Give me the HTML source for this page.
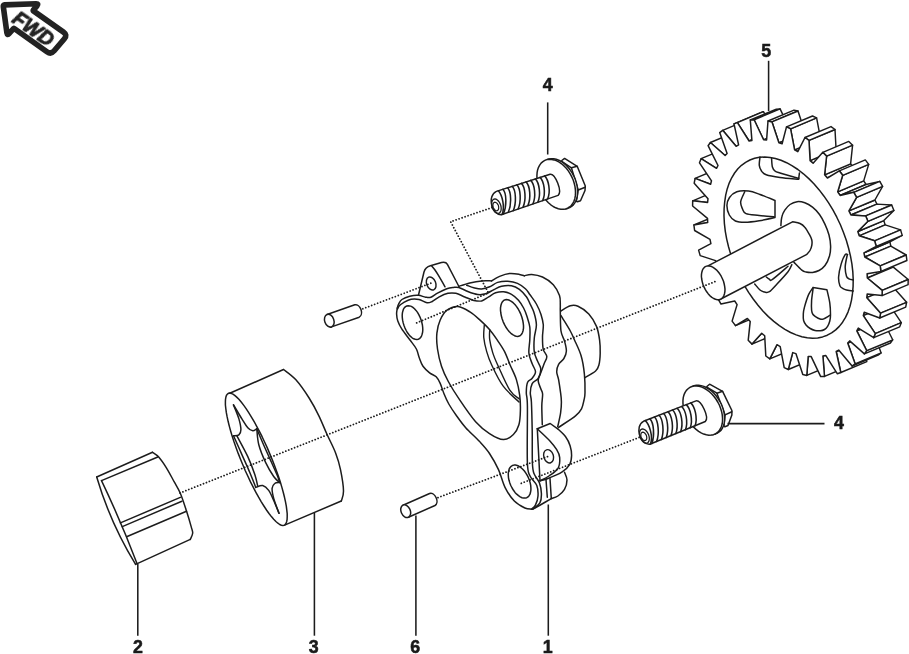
<!DOCTYPE html>
<html><head><meta charset="utf-8"><title>Oil pump assembly</title>
<style>
html,body{margin:0;padding:0;background:#fff;}
svg{display:block;}
text{font-family:"Liberation Sans",Arial,Helvetica,sans-serif;font-weight:bold;fill:#1a1a1a;}
</style></head><body>
<svg width="909" height="654" viewBox="0 0 909 654">
<defs><filter id="gs" x="-20%" y="-20%" width="140%" height="140%" color-interpolation-filters="sRGB"><feColorMatrix type="saturate" values="0"/></filter></defs>
<rect width="909" height="654" fill="#fff"/>
<g>
<path d="M3.3 6.5Q3.1 5 4.6 4.9L36 3.7Q39 3.6 37 5.9L33.3 10.2Q33 10.6 33.4 10.9L63.5 32.1Q67.6 35 64.4 38.8L54.2 50.8Q51 54.6 46.9 51.7L14.2 28.5Q13.8 28.2 13.5 28.6L9.2 33.5Q7.3 35.8 6.9 32.8Z" fill="#fff" stroke="#222" stroke-width="5.6" stroke-linejoin="round"/>
<text x="0" y="0" filter="url(#gs)" font-size="20" font-style="italic" transform="translate(10.9 21.4) rotate(35)" style="fill:#222;stroke:#222;stroke-width:0.9px;stroke-linejoin:round">FWD</text>
</g>
<g><path d="M96.7 477L152.5 452.3" fill="none" stroke="#1c1c1c" stroke-width="1.5" stroke-linejoin="round" stroke-linecap="round" /><path d="M152.5 452.3C153.5 453.1 156.4 454.4 158.7 457C161 459.6 163.8 463.7 166.4 467.8C169 471.9 171.8 477.5 174.1 481.7C176.4 485.9 178.2 488.3 180.3 493.2C182.4 498.1 184.7 505.5 186.5 511C188.3 516.5 190.1 522.7 191.1 526.4C192.1 530.1 192.8 530.8 192.7 533C192.6 535.2 190.7 538.3 190.3 539.4" fill="none" stroke="#1c1c1c" stroke-width="1.5" stroke-linejoin="round" stroke-linecap="round" /><path d="M190.3 539.4L135.6 564.4" fill="none" stroke="#1c1c1c" stroke-width="1.5" stroke-linejoin="round" stroke-linecap="round" /><path d="M96.7 477Q110.4 523.3 135.6 564.4" fill="none" stroke="#1c1c1c" stroke-width="1.5" stroke-linejoin="round" stroke-linecap="round" /><path d="M101.5 480.6Q120.9 521.2 136.9 563.2" fill="none" stroke="#1c1c1c" stroke-width="1.5" stroke-linejoin="round" stroke-linecap="round" /><path d="M101.5 480.6L157.8 457" fill="none" stroke="#1c1c1c" stroke-width="1.5" stroke-linejoin="round" stroke-linecap="round" /><path d="M120.4 522.9L180.3 497.4" fill="none" stroke="#1c1c1c" stroke-width="1.5" stroke-linejoin="round" stroke-linecap="round" /><path d="M122.3 526.6L181.9 501.2" fill="none" stroke="#1c1c1c" stroke-width="1.5" stroke-linejoin="round" stroke-linecap="round" /><path d="M126.6 536.8L186.5 511.3" fill="none" stroke="#1c1c1c" stroke-width="1.5" stroke-linejoin="round" stroke-linecap="round" /></g>
<g><path d="M229.8 393.3L283.5 369.5" fill="none" stroke="#1c1c1c" stroke-width="1.5" stroke-linejoin="round" stroke-linecap="round" /><path d="M283.5 369.5C285.6 371.2 291.6 375.1 295.9 379.8C300.2 384.6 305.2 391.9 309.1 398C313 404.1 316 409.9 319 416.1C322 422.3 324.5 428.9 327.3 435C330.1 441.1 333.4 447.2 335.6 453C337.8 458.8 339.2 463.3 340.5 469.6C341.8 475.9 343.4 485.8 343.5 491C343.6 496.2 341.7 499.3 341.3 501" fill="none" stroke="#1c1c1c" stroke-width="1.5" stroke-linejoin="round" stroke-linecap="round" /><path d="M341.3 501L285.2 524.9" fill="none" stroke="#1c1c1c" stroke-width="1.5" stroke-linejoin="round" stroke-linecap="round" /><path d="M228.4 393.3L229.7 393.1L231.2 393.4L232.9 394.1L234.7 395.4L236.7 397.1L238.9 399.3L241.2 402L243.6 405.1L246.1 408.6L248.7 412.6L251.3 416.8L254 421.4L256.7 426.3L259.4 431.4L262.1 436.7L264.7 442.3L267.3 447.9L269.7 453.6L272.1 459.4L274.4 465.2L276.5 470.9L278.5 476.5L280.3 482L281.9 487.4L283.3 492.5L284.5 497.3L285.5 501.9L286.3 506.2L286.8 510.1L287.2 513.6L287.2 516.7L287.1 519.3L286.7 521.5L286.1 523.3L285.2 524.5L284.2 525.3L282.9 525.5L281.4 525.2L279.7 524.5L277.9 523.2L275.9 521.5L273.7 519.3L271.4 516.6L269 513.5L266.5 510L263.9 506L261.3 501.8L258.6 497.2L255.9 492.3L253.2 487.2L250.5 481.9L247.9 476.3L245.3 470.7L242.9 465L240.5 459.2L238.2 453.4L236.1 447.7L234.1 442.1L232.3 436.6L230.7 431.2L229.3 426.1L228.1 421.3L227.1 416.7L226.3 412.4L225.8 408.5L225.4 405L225.4 401.9L225.5 399.3L225.9 397.1L226.5 395.3L227.4 394.1L228.4 393.3Z" fill="none" stroke="#1c1c1c" stroke-width="1.5" stroke-linejoin="round" stroke-linecap="round" /><path d="M233.5 404.9C234.4 407.2 237.7 414.8 238.9 418.9C240.1 423 240.9 427.1 240.9 429.8C240.9 432.5 240.1 433.8 238.9 434.8C237.7 435.8 234.4 435.6 233.5 435.8" fill="none" stroke="#1c1c1c" stroke-width="1.5" stroke-linejoin="round" stroke-linecap="round" /><path d="M233.5 404.9C234.9 407.2 239.5 415.1 241.9 418.9C244.3 422.7 246 425.8 247.8 427.8C249.6 429.8 251.3 430.6 252.8 430.8C254.3 431 256.1 429.1 256.8 428.8" fill="none" stroke="#1c1c1c" stroke-width="1.5" stroke-linejoin="round" stroke-linecap="round" /><path d="M233.5 435.8C234.9 438.9 239.2 448.5 241.9 454.6C244.6 460.7 247.5 467 249.8 472.5C252.1 478 254.8 484.9 255.8 487.4" fill="none" stroke="#1c1c1c" stroke-width="1.5" stroke-linejoin="round" stroke-linecap="round" /><path d="M236.9 435.8C238.7 439.3 244.8 450.2 247.8 456.6C250.8 463.1 253.1 469.5 254.8 474.5C256.5 479.5 257.3 484.5 257.8 486.5" fill="none" stroke="#1c1c1c" stroke-width="1.5" stroke-linejoin="round" stroke-linecap="round" /><path d="M256.8 428.8C257.1 431.4 257.3 439.1 258.8 444.7C260.3 450.3 263.2 457.3 265.7 462.6C268.2 467.9 271.4 473.2 273.7 476.5C276 479.8 278.6 481.5 279.6 482.5" fill="none" stroke="#1c1c1c" stroke-width="1.5" stroke-linejoin="round" stroke-linecap="round" /><path d="M256.8 428.8C257.8 431.1 260.4 437.4 262.7 442.7C265 448 268.2 455 270.7 460.6C273.2 466.2 276.2 472.9 277.7 476.5C279.2 480.1 279.3 481.5 279.6 482.5" fill="none" stroke="#1c1c1c" stroke-width="1.5" stroke-linejoin="round" stroke-linecap="round" /><path d="M255.8 487.4C256.9 487.1 260.6 485 262.7 485.5C264.8 486 266.9 487.9 268.7 490.4C270.5 492.9 272 496.6 273.7 500.4C275.4 504.2 278.1 511.1 279 513.3" fill="none" stroke="#1c1c1c" stroke-width="1.5" stroke-linejoin="round" stroke-linecap="round" /><path d="M279.6 482.5C278.8 482.7 275.9 482.5 274.7 483.5C273.4 484.5 272.3 485.9 272.1 488.4C271.9 490.9 272.6 494.2 273.7 498.4C274.8 502.5 278.1 510.8 279 513.3" fill="none" stroke="#1c1c1c" stroke-width="1.5" stroke-linejoin="round" stroke-linecap="round" /></g>
<g><path d="M327.1 314.5L354.8 304.8A4.6 6.6 -19.3 0 1 359.2 317.2L331.5 326.9Z" fill="#fff" stroke="#1c1c1c" stroke-width="1.5" stroke-linejoin="round" stroke-linecap="round" /><ellipse cx="329.3" cy="320.7" rx="4.6" ry="6.6" transform="rotate(-19.3 329.3 320.7)" fill="#fff" stroke="#1c1c1c" stroke-width="1.5"/><path d="M403 505.2L429.6 493.5A4.6 6.6 -23.7 0 1 435 505.5L408.4 517.2Z" fill="#fff" stroke="#1c1c1c" stroke-width="1.5" stroke-linejoin="round" stroke-linecap="round" /><ellipse cx="405.7" cy="511.2" rx="4.6" ry="6.6" transform="rotate(-23.7 405.7 511.2)" fill="#fff" stroke="#1c1c1c" stroke-width="1.5"/></g>
<g><path d="M561 311C562.5 310.1 567.5 306.6 570.3 305.8C573.1 305 574.9 304.9 578 306.3C581.1 307.7 585.7 310.6 588.8 314C591.9 317.4 594.7 322 596.5 326.4C598.3 330.8 599 335.7 599.6 340.2C600.2 344.7 600.3 349.1 600.2 353.2C600.1 357.3 599.7 362 598.9 365C598.1 368 597.9 368.9 595.6 371C593.3 373.1 586.8 376.5 585 377.6" fill="none" stroke="#1c1c1c" stroke-width="1.5" stroke-linejoin="round" stroke-linecap="round" /><path d="M561 315.6C562.5 318.2 568 326.9 570.3 331C572.5 335.1 572.7 335.9 574.5 340C576.3 344.1 579.5 350.1 581.1 355.8C582.8 361.5 583.8 368.1 584.4 374.3C585 380.5 585.1 388.5 585 392.8C584.9 397.1 584.6 397.3 584 400C583.4 402.7 582.9 406.2 581.5 408.9C580.1 411.5 579.3 412.8 575.5 415.9C571.7 419 561.5 425.4 558.7 427.3" fill="none" stroke="#1c1c1c" stroke-width="1.5" stroke-linejoin="round" stroke-linecap="round" /><path d="M458.9 286.3C460.7 285.7 466 283.8 469.8 282.9C473.6 282 478.1 281.2 481.7 280.9C485.3 280.6 490 280.9 491.6 280.9" fill="none" stroke="#1c1c1c" stroke-width="1.5" stroke-linejoin="round" stroke-linecap="round" /><path d="M491.6 280.9C492.9 280.1 496.6 277.6 499.6 276.4C502.6 275.2 506.2 273.9 509.5 273.6C512.8 273.3 516.9 274 519.4 274.4C521.9 274.8 523.6 275.5 524.4 275.7" fill="none" stroke="#1c1c1c" stroke-width="1.5" stroke-linejoin="round" stroke-linecap="round" /><path d="M524.4 275.7C525.6 275.5 528.7 274.2 531.7 274.4C534.7 274.6 538.9 275.3 542.5 277C546.1 278.7 550.5 281.6 553.3 284.7C556.1 287.8 558.3 292.1 559.5 295.5C560.7 298.9 560.2 302.2 560.3 304.8C560.4 307.4 560.2 306.6 560.3 311C560.4 315.4 560.3 326 561 331C561.7 336 563.6 337.7 564.5 341C565.4 344.3 566.5 348.1 566.4 351C566.3 353.9 565.2 356.3 563.9 358.5C562.6 360.7 559.8 362.2 558.6 364.4C557.4 366.6 556.7 369.2 556.7 371.7C556.7 374.2 558 376.1 558.6 379.6C559.2 383.1 560.1 389.1 560.6 392.8C561.1 396.5 561.4 398.6 561.4 402C561.4 405.4 561.2 408.8 560.6 412.9C560 417 558.2 424.5 557.7 426.8" fill="none" stroke="#1c1c1c" stroke-width="1.5" stroke-linejoin="round" stroke-linecap="round" /><path d="M466.8 285.3C468 285.7 471.3 287.2 473.8 287.8C476.3 288.4 479.1 289.2 481.7 289C484.3 288.8 487 287.9 489.7 286.8C492.4 285.7 494.6 283.3 497.6 282.4C500.6 281.5 504.2 281 507.5 281.2C510.8 281.4 514.5 282.1 517.5 283.4C520.5 284.7 523.3 286.9 525.4 288.8C527.5 290.7 528.2 292.3 530 294.8C531.8 297.3 534.6 300.7 536.4 304C538.2 307.3 539.9 311 541 314.5C542.1 318 543 321.1 543.3 324.8C543.5 328.6 542.5 332.9 542.5 337C542.5 341.1 542.5 345.9 543.2 349.2C543.9 352.4 546.6 354.1 546.8 356.5C546.9 358.9 545.2 360.8 544.1 363.8C543 366.8 541.2 371.5 540.2 374.3C539.2 377.1 538.1 378.5 538.2 380.9C538.3 383.3 540.1 386.6 540.8 388.8C541.5 391 542.4 391.1 542.6 394C542.8 396.9 541.8 400.9 541.8 406C541.8 411.1 542.2 421.7 542.3 424.8" fill="none" stroke="#1c1c1c" stroke-width="1.5" stroke-linejoin="round" stroke-linecap="round" /><path d="M397.3 308.1C397.5 307.4 397.8 305.5 398.6 304.1C399.4 302.7 400 300.8 401.9 299.5C403.8 298.2 407.1 296.9 409.8 296.2C412.6 295.5 415.8 295.1 418.4 295.3C421 295.5 423.5 296.9 425.6 297.2C427.7 297.5 428.9 297.9 430.9 297.2C432.9 296.5 434.9 294.6 437.5 293.2C440.1 291.8 444.2 289.7 446.8 288.7C449.4 287.7 451.4 287.6 453.4 287.4C455.4 287.2 456.5 286.8 458.9 287.5C461.3 288.2 464.7 290.3 467.8 291.5C470.9 292.7 474.7 294.1 477.7 294.5C480.7 294.9 483 294.6 485.7 293.8C488.4 293 491 291.1 493.6 289.8C496.2 288.6 498.6 287 501.6 286.3C504.6 285.6 508.5 285.3 511.5 285.8C514.5 286.3 516.9 287.5 519.4 289.3C521.9 291.1 524.6 294.4 526.4 296.8C528.2 299.2 528.8 301.2 530 303.7C531.2 306.2 532.7 308.5 533.8 312C534.9 315.5 536.3 320.5 536.4 324.8C536.5 329.1 534.6 333.5 534.3 338C533.9 342.5 533.8 348 534.3 351.9C534.8 355.8 536.4 358.2 537.5 361.1C538.6 364 540.7 366.1 540.8 369C540.9 371.9 539.6 375.9 538.2 378.3C536.8 380.7 533.5 381.2 532.2 383.6C530.9 386 530.4 389.7 530.3 392.8C530.2 395.9 531.1 395.8 531.4 402C531.7 408.2 532 419.8 532.2 430C532.4 440.2 532.1 455.7 532.4 463C532.7 470.3 532.8 470.3 534 473.6C535.2 476.9 538.2 479.5 539.4 482.8C540.6 486.1 541.3 490.1 541.4 493.4C541.5 496.7 541.4 500 540 502.6C538.6 505.2 534 508.1 532.8 509.2" fill="none" stroke="#1c1c1c" stroke-width="1.5" stroke-linejoin="round" stroke-linecap="round" /><path d="M397.5 309C397.8 308.4 398.6 306.5 399.5 305.5C400.4 304.5 401.3 303.8 403.2 302.8C405.1 301.8 408.5 299.9 411.1 299.3C413.7 298.8 416.4 298.9 419 299.5C421.6 300.1 424.8 302.5 427 302.8C429.2 303.1 430.2 302.4 432.2 301.5C434.2 300.6 436.2 298.5 438.8 297.1C441.4 295.7 445 293.9 447.9 293.3C450.8 292.7 453.1 292.7 455.9 293.3C458.7 293.9 461.8 295.8 464.8 297C467.8 298.2 471 299.8 473.8 300.4C476.6 301 479.2 301.5 481.7 300.9C484.2 300.3 486.4 298.1 488.7 296.8C491 295.5 493.1 293.6 495.6 292.8C498.1 292 501 291.6 503.6 291.8C506.2 292.1 509 292.9 511.5 294.3C514 295.7 516.5 297.9 518.5 300.2C520.5 302.5 522.2 305.3 523.6 308C525 310.7 526 313.3 527 316.5C528 319.7 529.3 323.1 529.8 327C530.3 330.9 529.9 335.6 529.8 340C529.6 344.4 528.5 349.2 528.9 353.2C529.3 357.2 531.1 360.7 532.2 363.8C533.3 366.9 535.5 369.3 535.5 371.7C535.5 374.1 533.5 376.6 532.2 378.3C530.9 380.1 528.6 379.8 527.6 382.2C526.6 384.6 526.3 388.8 526.3 392.8C526.3 396.8 527.2 394.3 527.4 406C527.6 417.7 526.9 451.3 527.4 463C527.9 474.7 528.6 472.5 530.2 476.2C531.8 479.9 535.5 482.1 536.8 485.4C538.1 488.7 538.2 492.7 538 496C537.8 499.3 536.5 503 535.4 505.2C534.3 507.4 532.1 508.5 531.5 509.2" fill="none" stroke="#1c1c1c" stroke-width="1.5" stroke-linejoin="round" stroke-linecap="round" /><path d="M397.3 308.1C397.2 309.1 396.5 311.9 396.6 314C396.7 316.1 396.9 318.5 397.8 321C398.7 323.5 399.9 326.1 401.9 329.2C403.9 332.3 407.4 336.5 409.8 339.8C412.2 343.1 414.9 346.1 416.4 349C417.9 351.9 417.9 354.1 419 357C420.1 359.9 421.2 363.6 423 366.2C424.8 368.8 427.4 371 429.6 372.8C431.8 374.6 434.4 375 436.2 376.8C438 378.6 438.9 380.5 440.2 383.4C441.5 386.3 442.7 390.6 444.1 394C445.5 397.4 446.8 400.5 448.8 404C450.8 407.5 453.2 411.1 456 415C458.8 418.9 461.8 423.3 465.7 427.7C469.6 432.1 475.6 437.3 479.6 441.6C483.6 445.9 486.4 448.8 489.5 453.5C492.6 458.2 495.9 464 498.5 469.6C501.1 475.2 502.4 482.1 505 487.3C507.6 492.5 511 497.6 514.3 501C517.6 504.4 522 506.6 524.9 508C527.8 509.4 530.4 509 531.5 509.2" fill="none" stroke="#1c1c1c" stroke-width="1.5" stroke-linejoin="round" stroke-linecap="round" /><path d="M418.5 295L424 272C425 268.5 427.5 266.6 430.4 265.8L441.5 262.5C444.5 261.8 446.3 262.3 447.4 264.3L458.9 286.5" fill="none" stroke="#1c1c1c" stroke-width="1.5" stroke-linejoin="round" stroke-linecap="round" /><path d="M431.6 265.8C432.2 266.5 433.9 268.4 435 270C436.1 271.6 437.2 273.3 438.3 275.2C439.4 277.1 440.7 279.3 441.8 281.2C442.9 283.1 444.5 285.9 445 286.8" fill="none" stroke="#1c1c1c" stroke-width="1.5" stroke-linejoin="round" stroke-linecap="round" /><ellipse cx="431.2" cy="283.5" rx="4.5" ry="6.8" transform="rotate(-22 431.2 283.5)" fill="none" stroke="#1c1c1c" stroke-width="1.45"/><path d="M406.8 306L408.2 305.7L409.7 305.9L411.3 306.4L412.9 307.4L414.5 308.8L416 310.4L417.5 312.4L418.8 314.7L420 317.1L421 319.7L421.8 322.3L422.4 325L422.7 327.5L422.8 330L422.6 332.3L422.1 334.3L421.5 336.1L420.6 337.5L419.5 338.6L418.2 339.2L416.8 339.5L415.3 339.3L413.7 338.8L412.1 337.8L410.5 336.4L409 334.8L407.5 332.8L406.2 330.5L405 328.1L404 325.5L403.2 322.9L402.6 320.2L402.3 317.7L402.2 315.2L402.4 312.9L402.9 310.9L403.5 309.1L404.4 307.7L405.5 306.6L406.8 306Z" fill="none" stroke="#1c1c1c" stroke-width="1.5" stroke-linejoin="round" stroke-linecap="round" /><path d="M504.7 299.9L506.2 299.6L507.8 299.7L509.5 300.3L511.3 301.3L513.1 302.7L514.9 304.5L516.6 306.6L518.2 309L519.6 311.6L520.9 314.4L521.9 317.3L522.7 320.2L523.2 323L523.5 325.7L523.5 328.2L523.1 330.5L522.5 332.5L521.7 334.1L520.6 335.3L519.3 336.1L517.8 336.4L516.2 336.3L514.5 335.7L512.7 334.7L510.9 333.3L509.1 331.5L507.4 329.4L505.8 327L504.4 324.4L503.1 321.6L502.1 318.7L501.3 315.8L500.8 313L500.5 310.3L500.5 307.8L500.9 305.5L501.5 303.5L502.3 301.9L503.4 300.7L504.7 299.9Z" fill="none" stroke="#1c1c1c" stroke-width="1.5" stroke-linejoin="round" stroke-linecap="round" /><path d="M512.4 465.5L513.9 465.1L515.5 465.1L517.2 465.5L519 466.3L520.7 467.5L522.5 469L524.2 470.8L525.7 472.9L527.1 475.2L528.4 477.7L529.4 480.3L530.2 482.9L530.7 485.4L530.9 487.9L530.9 490.2L530.5 492.3L530 494.2L529.1 495.7L528 496.9L526.8 497.7L525.3 498.1L523.7 498.1L522 497.7L520.2 496.9L518.5 495.7L516.7 494.2L515 492.4L513.5 490.3L512.1 488L510.8 485.5L509.8 482.9L509 480.3L508.5 477.8L508.3 475.3L508.3 473L508.7 470.9L509.2 469L510.1 467.5L511.2 466.3L512.4 465.5Z" fill="none" stroke="#1c1c1c" stroke-width="1.5" stroke-linejoin="round" stroke-linecap="round" /><path d="M458 306.6C461.8 306.9 466.3 309.7 469.9 311.9C473.5 314.1 476.5 316.9 479.8 319.9C483.1 322.9 486.7 326.3 489.7 329.8C492.7 333.3 495.2 337.1 497.7 340.7C500.2 344.3 502.5 347.6 504.6 351.6C506.7 355.7 508.1 360.3 510.1 365C512.1 369.7 514.8 374.5 516.4 379.6C518 384.7 519 390.3 519.7 395.4C520.4 400.5 520.5 405.1 520.4 410C520.3 414.9 520.1 420.7 518.9 424.8C517.7 428.9 516 432 513.4 434.5C510.8 437 507.4 439.8 503.4 439.6C499.4 439.5 494.1 436.6 489.5 433.6C484.9 430.6 480.6 427.3 475.6 421.7C470.6 416.1 464.2 406.6 459.7 399.9C455.1 393.2 451.3 387.1 448.3 381.5C445.3 375.9 443.3 371.6 441.5 366.2C439.7 360.8 438.3 354.5 437.5 349C436.7 343.5 436.4 338 436.9 333.2C437.3 328.4 438.5 323.8 440.2 320C441.9 316.2 444 312.4 447 310.2C450 308 454.2 306.3 458 306.6Z" fill="none" stroke="#1c1c1c" stroke-width="1.5" stroke-linejoin="round" stroke-linecap="round" /><path d="M484.3 325.3C484.2 327.4 483.4 333.3 483.8 337.7C484.2 342.1 485.4 347.1 486.7 351.6C488 356.2 488.9 359.2 491.7 365C494.4 370.8 498.6 380 503.2 386.2C507.8 392.4 516.4 399.4 519 402" fill="none" stroke="#1c1c1c" stroke-width="1.4" stroke-linejoin="round" stroke-linecap="round" /><path d="M489.7 329.8C489.7 331.4 489.2 335.9 489.7 339.7C490.2 343.5 491.4 348.4 492.7 352.6C494 356.8 494.8 358.7 497.7 365C500.6 371.3 506.2 384.5 509.8 390.2C513.4 395.9 517.7 397.5 519.3 399" fill="none" stroke="#1c1c1c" stroke-width="1.4" stroke-linejoin="round" stroke-linecap="round" /><path d="M557.7 428.8C559 430.1 563.5 433.9 565.6 436.7C567.7 439.5 569.1 442.5 570.1 445.7C571.1 448.9 571.7 452.5 571.6 455.6C571.5 458.7 571.4 461.5 569.8 464.3C568.2 467.1 565.3 469.9 561.8 472.2C558.3 474.5 552.2 476.8 548.6 478.2C545 479.6 541.4 480.4 540 480.8" fill="none" stroke="#1c1c1c" stroke-width="1.5" stroke-linejoin="round" stroke-linecap="round" /><path d="M537.3 428.8L550.2 423.5L557.7 428.8" fill="none" stroke="#1c1c1c" stroke-width="1.5" stroke-linejoin="round" stroke-linecap="round" /><path d="M537.3 428.8C539.4 430.8 546.5 437.2 549.7 440.7C552.9 444.2 555 446.9 556.7 449.7C558.4 452.5 559.5 454.5 559.7 457.6C559.9 460.7 559.8 465.2 558 468.3C556.2 471.4 552 473.9 549 476C546 478.1 541.5 480 540 480.8" fill="none" stroke="#1c1c1c" stroke-width="1.5" stroke-linejoin="round" stroke-linecap="round" /><path d="M537.3 428.8L540 480.8" fill="none" stroke="#1c1c1c" stroke-width="1.5" stroke-linejoin="round" stroke-linecap="round" /><ellipse cx="548.6" cy="456.3" rx="4.8" ry="6.8" transform="rotate(-18 548.6 456.3)" fill="none" stroke="#1c1c1c" stroke-width="1.4"/><path d="M564.5 472.2C564.9 473.5 567 477.1 567 480C567 482.9 566 486.7 564.5 489.4C563 492.1 560.1 494.5 557.9 496C555.7 497.5 552.4 498.2 551.3 498.6" fill="none" stroke="#1c1c1c" stroke-width="1.5" stroke-linejoin="round" stroke-linecap="round" /><path d="M546 479.5L547.3 497.3" fill="none" stroke="#1c1c1c" stroke-width="1.5" stroke-linejoin="round" stroke-linecap="round" /><path d="M550 478.5L551.3 498.6" fill="none" stroke="#1c1c1c" stroke-width="1.5" stroke-linejoin="round" stroke-linecap="round" /><path d="M551.3 498.6C549.8 499.5 545.1 502.2 542 504C538.9 505.8 534.3 508.3 532.8 509.2" fill="none" stroke="#1c1c1c" stroke-width="1.5" stroke-linejoin="round" stroke-linecap="round" /></g>
<g><path d="M561.8 160.5L564.6 158.4L577.2 166.3L585.3 186L585 190.5L580.5 200.8L577.3 201.8L575.2 200.7L566 186Z" fill="#fff" stroke="#1c1c1c" stroke-width="1.5" stroke-linejoin="round" stroke-linecap="round" /><path d="M562.5 161.8L571.4 167.8L577.2 166.3" fill="none" stroke="#1c1c1c" stroke-width="1.5" stroke-linejoin="round" stroke-linecap="round" /><path d="M571.4 167.8L578.2 190L585.2 187.2" fill="none" stroke="#1c1c1c" stroke-width="1.5" stroke-linejoin="round" stroke-linecap="round" /><path d="M578.2 190L576.4 200.9" fill="none" stroke="#1c1c1c" stroke-width="1.5" stroke-linejoin="round" stroke-linecap="round" /><path d="M546.9 159.8L549 159L551.3 158.7L553.7 158.8L556.2 159.3L558.8 160.2L561.3 161.5L563.7 163.2L566.1 165.3L568.4 167.7L570.4 170.3L572.3 173.2L573.9 176.3L575.3 179.4L576.3 182.7L577.1 186L577.5 189.2L577.6 192.4L577.4 195.3L576.9 198.1L576 200.7L574.8 202.9L573.4 204.9L571.6 206.4L569.7 207.6L567.6 208.4L565.3 208.7L562.9 208.6L560.4 208.1L557.8 207.2L555.3 205.9L552.9 204.2L550.5 202.1L548.2 199.7L546.2 197.1L544.3 194.2L542.7 191.1L541.3 188L540.3 184.7L539.5 181.4L539.1 178.2L539 175L539.2 172.1L539.7 169.3L540.6 166.7L541.8 164.5L543.2 162.5L545 161L546.9 159.8Z" fill="#fff" stroke="#1c1c1c" stroke-width="1.5" stroke-linejoin="round" stroke-linecap="round" /><path d="M544.8 160.4L546.9 159.6L549.2 159.3L551.6 159.4L554.1 159.9L556.7 160.8L559.2 162.1L561.6 163.8L564 165.9L566.3 168.3L568.3 170.9L570.2 173.8L571.8 176.9L573.2 180L574.2 183.3L575 186.6L575.4 189.8L575.5 193L575.3 195.9L574.8 198.7L573.9 201.3L572.7 203.5L571.3 205.5L569.5 207L567.6 208.2L565.5 209L563.2 209.3L560.8 209.2L558.3 208.7L555.7 207.8L553.2 206.5L550.8 204.8L548.4 202.7L546.1 200.3L544.1 197.7L542.2 194.8L540.6 191.7L539.2 188.6L538.2 185.3L537.4 182L537 178.8L536.9 175.6L537.1 172.7L537.6 169.9L538.5 167.3L539.7 165.1L541.1 163.1L542.9 161.6L544.8 160.4Z" fill="#fff" stroke="#1c1c1c" stroke-width="1.5" stroke-linejoin="round" stroke-linecap="round" /><path d="M496.4 191.4L550.1 174.2C555.2 173.6 562.6 191.3 558.1 195.4L501.3 214.7C491.5 215 487 195.5 496.4 191.4 Z" fill="#fff" stroke="#1c1c1c" stroke-width="1.5" stroke-linejoin="round" stroke-linecap="round" /><path d="M494 199.2L495 199L495.9 199.2L496.9 199.7L497.9 200.5L498.8 201.5L499.6 202.7L500.3 204.1L500.8 205.5L501.1 207L501.2 208.5L501.1 209.8L500.8 211L500.3 212L499.6 212.8L498.8 213.2L497.8 213.4L496.9 213.2L495.9 212.7L494.9 211.9L494 210.9L493.2 209.7L492.5 208.3L492 206.9L491.7 205.4L491.6 203.9L491.7 202.6L492 201.4L492.5 200.4L493.2 199.6L494 199.2Z" fill="none" stroke="#1c1c1c" stroke-width="1.3" stroke-linejoin="round" stroke-linecap="round" /><path d="M494.4 202.3L495.1 202.2L495.9 202.5L496.6 202.9L497.3 203.7L497.9 204.6L498.4 205.6L498.6 206.7L498.7 207.8L498.6 208.8L498.3 209.7L497.8 210.3L497.2 210.7L496.5 210.8L495.7 210.5L495 210.1L494.3 209.3L493.7 208.4L493.2 207.4L493 206.3L492.9 205.2L493 204.2L493.3 203.3L493.8 202.7L494.4 202.3Z" fill="none" stroke="#1c1c1c" stroke-width="1.2" stroke-linejoin="round" stroke-linecap="round" /><path d="M498.3 190.8C502.1 194.8 505.3 207 502 214.5" fill="none" stroke="#1c1c1c" stroke-width="1.55" stroke-linejoin="round" stroke-linecap="round" /><path d="M502.9 189.3C506.8 193.3 506.7 206.6 503.4 214" fill="none" stroke="#1c1c1c" stroke-width="1.55" stroke-linejoin="round" stroke-linecap="round" /><path d="M507.6 187.8C511.4 191.8 511.6 204.9 508.3 212.3" fill="none" stroke="#1c1c1c" stroke-width="1.55" stroke-linejoin="round" stroke-linecap="round" /><path d="M512.2 186.3C516.1 190.3 516.5 203.2 513.2 210.7" fill="none" stroke="#1c1c1c" stroke-width="1.55" stroke-linejoin="round" stroke-linecap="round" /><path d="M516.9 184.8C520.7 188.8 521.4 201.5 518.1 209" fill="none" stroke="#1c1c1c" stroke-width="1.55" stroke-linejoin="round" stroke-linecap="round" /><path d="M521.5 183.4C525.4 187.3 526.3 199.9 523 207.3" fill="none" stroke="#1c1c1c" stroke-width="1.55" stroke-linejoin="round" stroke-linecap="round" /><path d="M526.1 181.9C530 185.8 531.2 198.2 527.9 205.6" fill="none" stroke="#1c1c1c" stroke-width="1.55" stroke-linejoin="round" stroke-linecap="round" /><path d="M530.8 180.4C534.7 184.4 536.2 196.5 532.9 204" fill="none" stroke="#1c1c1c" stroke-width="1.55" stroke-linejoin="round" stroke-linecap="round" /><path d="M535.4 178.9C539.3 182.9 541.1 194.9 537.8 202.3" fill="none" stroke="#1c1c1c" stroke-width="1.55" stroke-linejoin="round" stroke-linecap="round" /><path d="M540.1 177.4C544 181.4 546 193.2 542.7 200.6" fill="none" stroke="#1c1c1c" stroke-width="1.55" stroke-linejoin="round" stroke-linecap="round" /><path d="M544.7 175.9C548.6 179.9 550.9 191.5 547.6 199" fill="none" stroke="#1c1c1c" stroke-width="1.55" stroke-linejoin="round" stroke-linecap="round" /></g>
<g transform="translate(146.5 226.3) rotate(-3.5 555.9 183.6)"><path d="M561.8 160.5L564.6 158.4L577.2 166.3L585.3 186L585 190.5L580.5 200.8L577.3 201.8L575.2 200.7L566 186Z" fill="#fff" stroke="#1c1c1c" stroke-width="1.5" stroke-linejoin="round" stroke-linecap="round" /><path d="M562.5 161.8L571.4 167.8L577.2 166.3" fill="none" stroke="#1c1c1c" stroke-width="1.5" stroke-linejoin="round" stroke-linecap="round" /><path d="M571.4 167.8L578.2 190L585.2 187.2" fill="none" stroke="#1c1c1c" stroke-width="1.5" stroke-linejoin="round" stroke-linecap="round" /><path d="M578.2 190L576.4 200.9" fill="none" stroke="#1c1c1c" stroke-width="1.5" stroke-linejoin="round" stroke-linecap="round" /><path d="M546.9 159.8L549 159L551.3 158.7L553.7 158.8L556.2 159.3L558.8 160.2L561.3 161.5L563.7 163.2L566.1 165.3L568.4 167.7L570.4 170.3L572.3 173.2L573.9 176.3L575.3 179.4L576.3 182.7L577.1 186L577.5 189.2L577.6 192.4L577.4 195.3L576.9 198.1L576 200.7L574.8 202.9L573.4 204.9L571.6 206.4L569.7 207.6L567.6 208.4L565.3 208.7L562.9 208.6L560.4 208.1L557.8 207.2L555.3 205.9L552.9 204.2L550.5 202.1L548.2 199.7L546.2 197.1L544.3 194.2L542.7 191.1L541.3 188L540.3 184.7L539.5 181.4L539.1 178.2L539 175L539.2 172.1L539.7 169.3L540.6 166.7L541.8 164.5L543.2 162.5L545 161L546.9 159.8Z" fill="#fff" stroke="#1c1c1c" stroke-width="1.5" stroke-linejoin="round" stroke-linecap="round" /><path d="M544.8 160.4L546.9 159.6L549.2 159.3L551.6 159.4L554.1 159.9L556.7 160.8L559.2 162.1L561.6 163.8L564 165.9L566.3 168.3L568.3 170.9L570.2 173.8L571.8 176.9L573.2 180L574.2 183.3L575 186.6L575.4 189.8L575.5 193L575.3 195.9L574.8 198.7L573.9 201.3L572.7 203.5L571.3 205.5L569.5 207L567.6 208.2L565.5 209L563.2 209.3L560.8 209.2L558.3 208.7L555.7 207.8L553.2 206.5L550.8 204.8L548.4 202.7L546.1 200.3L544.1 197.7L542.2 194.8L540.6 191.7L539.2 188.6L538.2 185.3L537.4 182L537 178.8L536.9 175.6L537.1 172.7L537.6 169.9L538.5 167.3L539.7 165.1L541.1 163.1L542.9 161.6L544.8 160.4Z" fill="#fff" stroke="#1c1c1c" stroke-width="1.5" stroke-linejoin="round" stroke-linecap="round" /><path d="M496.4 191.4L550.1 174.2C555.2 173.6 562.6 191.3 558.1 195.4L501.3 214.7C491.5 215 487 195.5 496.4 191.4 Z" fill="#fff" stroke="#1c1c1c" stroke-width="1.5" stroke-linejoin="round" stroke-linecap="round" /><path d="M494 199.2L495 199L495.9 199.2L496.9 199.7L497.9 200.5L498.8 201.5L499.6 202.7L500.3 204.1L500.8 205.5L501.1 207L501.2 208.5L501.1 209.8L500.8 211L500.3 212L499.6 212.8L498.8 213.2L497.8 213.4L496.9 213.2L495.9 212.7L494.9 211.9L494 210.9L493.2 209.7L492.5 208.3L492 206.9L491.7 205.4L491.6 203.9L491.7 202.6L492 201.4L492.5 200.4L493.2 199.6L494 199.2Z" fill="none" stroke="#1c1c1c" stroke-width="1.3" stroke-linejoin="round" stroke-linecap="round" /><path d="M494.4 202.3L495.1 202.2L495.9 202.5L496.6 202.9L497.3 203.7L497.9 204.6L498.4 205.6L498.6 206.7L498.7 207.8L498.6 208.8L498.3 209.7L497.8 210.3L497.2 210.7L496.5 210.8L495.7 210.5L495 210.1L494.3 209.3L493.7 208.4L493.2 207.4L493 206.3L492.9 205.2L493 204.2L493.3 203.3L493.8 202.7L494.4 202.3Z" fill="none" stroke="#1c1c1c" stroke-width="1.2" stroke-linejoin="round" stroke-linecap="round" /><path d="M498.3 190.8C502.1 194.8 505.3 207 502 214.5" fill="none" stroke="#1c1c1c" stroke-width="1.55" stroke-linejoin="round" stroke-linecap="round" /><path d="M502.9 189.3C506.8 193.3 506.7 206.6 503.4 214" fill="none" stroke="#1c1c1c" stroke-width="1.55" stroke-linejoin="round" stroke-linecap="round" /><path d="M507.6 187.8C511.4 191.8 511.6 204.9 508.3 212.3" fill="none" stroke="#1c1c1c" stroke-width="1.55" stroke-linejoin="round" stroke-linecap="round" /><path d="M512.2 186.3C516.1 190.3 516.5 203.2 513.2 210.7" fill="none" stroke="#1c1c1c" stroke-width="1.55" stroke-linejoin="round" stroke-linecap="round" /><path d="M516.9 184.8C520.7 188.8 521.4 201.5 518.1 209" fill="none" stroke="#1c1c1c" stroke-width="1.55" stroke-linejoin="round" stroke-linecap="round" /><path d="M521.5 183.4C525.4 187.3 526.3 199.9 523 207.3" fill="none" stroke="#1c1c1c" stroke-width="1.55" stroke-linejoin="round" stroke-linecap="round" /><path d="M526.1 181.9C530 185.8 531.2 198.2 527.9 205.6" fill="none" stroke="#1c1c1c" stroke-width="1.55" stroke-linejoin="round" stroke-linecap="round" /><path d="M530.8 180.4C534.7 184.4 536.2 196.5 532.9 204" fill="none" stroke="#1c1c1c" stroke-width="1.55" stroke-linejoin="round" stroke-linecap="round" /><path d="M535.4 178.9C539.3 182.9 541.1 194.9 537.8 202.3" fill="none" stroke="#1c1c1c" stroke-width="1.55" stroke-linejoin="round" stroke-linecap="round" /><path d="M540.1 177.4C544 181.4 546 193.2 542.7 200.6" fill="none" stroke="#1c1c1c" stroke-width="1.55" stroke-linejoin="round" stroke-linecap="round" /><path d="M544.7 175.9C548.6 179.9 550.9 191.5 547.6 199" fill="none" stroke="#1c1c1c" stroke-width="1.55" stroke-linejoin="round" stroke-linecap="round" /></g>
<g><path d="M747.4 318.4L735.5 325.6L761.5 314.7L773.4 307.5Z" fill="#fff" stroke="#1c1c1c" stroke-width="1.45" stroke-linejoin="round" stroke-linecap="round" /><path d="M693.9 225L707.7 222.6L733.7 211.7L719.9 214.1Z" fill="#fff" stroke="#1c1c1c" stroke-width="1.45" stroke-linejoin="round" stroke-linecap="round" /><path d="M761.7 333.2L752 344.1L778 333.2L787.7 322.3Z" fill="#fff" stroke="#1c1c1c" stroke-width="1.45" stroke-linejoin="round" stroke-linecap="round" /><path d="M692.7 200.8L707.6 202.5L733.6 191.6L718.7 189.9Z" fill="#fff" stroke="#1c1c1c" stroke-width="1.45" stroke-linejoin="round" stroke-linecap="round" /><path d="M777 344.7L769.8 358.9L795.8 348L803 333.8Z" fill="#fff" stroke="#1c1c1c" stroke-width="1.45" stroke-linejoin="round" stroke-linecap="round" /><path d="M695.1 178.4L710.6 184.2L736.6 173.3L721.1 167.5Z" fill="#fff" stroke="#1c1c1c" stroke-width="1.45" stroke-linejoin="round" stroke-linecap="round" /><path d="M792.7 352.6L788.3 369.5L814.3 358.6L818.7 341.7Z" fill="#fff" stroke="#1c1c1c" stroke-width="1.45" stroke-linejoin="round" stroke-linecap="round" /><path d="M701.1 158.7L716.5 168.3L742.5 157.4L727.1 147.8Z" fill="#fff" stroke="#1c1c1c" stroke-width="1.45" stroke-linejoin="round" stroke-linecap="round" /><path d="M808.2 356.4L806.8 375.4L832.8 364.5L834.2 345.5Z" fill="#fff" stroke="#1c1c1c" stroke-width="1.45" stroke-linejoin="round" stroke-linecap="round" /><path d="M710.4 142.5L725.1 155.5L751.1 144.6L736.4 131.6Z" fill="#fff" stroke="#1c1c1c" stroke-width="1.45" stroke-linejoin="round" stroke-linecap="round" /><path d="M822.9 356L824.5 376.4L850.5 365.5L848.9 345.1Z" fill="#fff" stroke="#1c1c1c" stroke-width="1.45" stroke-linejoin="round" stroke-linecap="round" /><path d="M722.7 130.3L736.1 146.3L762.1 135.4L748.7 119.4Z" fill="#fff" stroke="#1c1c1c" stroke-width="1.45" stroke-linejoin="round" stroke-linecap="round" /><path d="M836.2 351.5L840.8 372.5L866.8 361.6L862.2 340.6Z" fill="#fff" stroke="#1c1c1c" stroke-width="1.45" stroke-linejoin="round" stroke-linecap="round" /><path d="M734 123.9L737.4 122.6L763.4 111.7L760 113Z" fill="#fff" stroke="#1c1c1c" stroke-width="1.45" stroke-linejoin="round" stroke-linecap="round" /><path d="M838.7 350.1L836.2 351.5L862.2 340.6L864.7 339.2Z" fill="#fff" stroke="#1c1c1c" stroke-width="1.45" stroke-linejoin="round" stroke-linecap="round" /><path d="M737.4 122.6L749.1 141L775.1 130.1L763.4 111.7Z" fill="#fff" stroke="#1c1c1c" stroke-width="1.45" stroke-linejoin="round" stroke-linecap="round" /><path d="M749.1 141L751.9 140.4L777.9 129.5L775.1 130.1Z" fill="#fff" stroke="#1c1c1c" stroke-width="1.45" stroke-linejoin="round" stroke-linecap="round" /><path d="M855.1 363.8L852.1 366.1L878.1 355.2L881.1 352.9Z" fill="#fff" stroke="#1c1c1c" stroke-width="1.45" stroke-linejoin="round" stroke-linecap="round" /><path d="M847.7 343L855.1 363.8L881.1 352.9L873.7 332.1Z" fill="#fff" stroke="#1c1c1c" stroke-width="1.45" stroke-linejoin="round" stroke-linecap="round" /><path d="M849.7 340.9L847.7 343L873.7 332.1L875.7 330Z" fill="#fff" stroke="#1c1c1c" stroke-width="1.45" stroke-linejoin="round" stroke-linecap="round" /><path d="M750.3 120L754.1 119.8L780.1 108.9L776.3 109.1Z" fill="#fff" stroke="#1c1c1c" stroke-width="1.45" stroke-linejoin="round" stroke-linecap="round" /><path d="M754.1 119.8L763.6 139.8L789.6 128.9L780.1 108.9Z" fill="#fff" stroke="#1c1c1c" stroke-width="1.45" stroke-linejoin="round" stroke-linecap="round" /><path d="M763.6 139.8L766.6 140L792.6 129.1L789.6 128.9Z" fill="#fff" stroke="#1c1c1c" stroke-width="1.45" stroke-linejoin="round" stroke-linecap="round" /><path d="M866.7 350.7L864.4 353.9L890.4 343L892.7 339.8Z" fill="#fff" stroke="#1c1c1c" stroke-width="1.45" stroke-linejoin="round" stroke-linecap="round" /><path d="M856.8 330.9L866.7 350.7L892.7 339.8L882.8 320Z" fill="#fff" stroke="#1c1c1c" stroke-width="1.45" stroke-linejoin="round" stroke-linecap="round" /><path d="M858.3 328.1L856.8 330.9L882.8 320L884.3 317.2Z" fill="#fff" stroke="#1c1c1c" stroke-width="1.45" stroke-linejoin="round" stroke-linecap="round" /><path d="M768 121L772 121.9L798 111L794 110.1Z" fill="#fff" stroke="#1c1c1c" stroke-width="1.45" stroke-linejoin="round" stroke-linecap="round" /><path d="M772 121.9L778.9 142.8L804.9 131.9L798 111Z" fill="#fff" stroke="#1c1c1c" stroke-width="1.45" stroke-linejoin="round" stroke-linecap="round" /><path d="M778.9 142.8L782.1 143.8L808.1 132.9L804.9 131.9Z" fill="#fff" stroke="#1c1c1c" stroke-width="1.45" stroke-linejoin="round" stroke-linecap="round" /><path d="M864.2 312.2L863.3 315.6L889.3 304.7L890.2 301.3Z" fill="#fff" stroke="#1c1c1c" stroke-width="1.45" stroke-linejoin="round" stroke-linecap="round" /><path d="M863.3 315.6L875.3 333.6L901.3 322.7L889.3 304.7Z" fill="#fff" stroke="#1c1c1c" stroke-width="1.45" stroke-linejoin="round" stroke-linecap="round" /><path d="M875.3 333.6L873.7 337.7L899.7 326.8L901.3 322.7Z" fill="#fff" stroke="#1c1c1c" stroke-width="1.45" stroke-linejoin="round" stroke-linecap="round" /><path d="M794.6 149.8L797.8 151.7L823.8 140.8L820.6 138.9Z" fill="#fff" stroke="#1c1c1c" stroke-width="1.45" stroke-linejoin="round" stroke-linecap="round" /><path d="M790.6 128.8L794.6 149.8L820.6 138.9L816.6 117.9Z" fill="#fff" stroke="#1c1c1c" stroke-width="1.45" stroke-linejoin="round" stroke-linecap="round" /><path d="M786.5 126.9L790.6 128.8L816.6 117.9L812.5 116Z" fill="#fff" stroke="#1c1c1c" stroke-width="1.45" stroke-linejoin="round" stroke-linecap="round" /><path d="M867.2 293.9L866.8 297.7L892.8 286.8L893.2 283Z" fill="#fff" stroke="#1c1c1c" stroke-width="1.45" stroke-linejoin="round" stroke-linecap="round" /><path d="M866.8 297.7L880.6 313.2L906.6 302.3L892.8 286.8Z" fill="#fff" stroke="#1c1c1c" stroke-width="1.45" stroke-linejoin="round" stroke-linecap="round" /><path d="M810.1 160.6L813.1 163.2L839.1 152.3L836.1 149.7Z" fill="#fff" stroke="#1c1c1c" stroke-width="1.45" stroke-linejoin="round" stroke-linecap="round" /><path d="M880.6 313.2L879.7 318L905.7 307.1L906.6 302.3Z" fill="#fff" stroke="#1c1c1c" stroke-width="1.45" stroke-linejoin="round" stroke-linecap="round" /><path d="M809 140.4L810.1 160.6L836.1 149.7L835 129.5Z" fill="#fff" stroke="#1c1c1c" stroke-width="1.45" stroke-linejoin="round" stroke-linecap="round" /><path d="M867.1 273.8L867.3 278L893.3 267.1L893.1 262.9Z" fill="#fff" stroke="#1c1c1c" stroke-width="1.45" stroke-linejoin="round" stroke-linecap="round" /><path d="M805 137.5L809 140.4L835 129.5L831 126.6Z" fill="#fff" stroke="#1c1c1c" stroke-width="1.45" stroke-linejoin="round" stroke-linecap="round" /><path d="M824.6 174.8L827.4 178L853.4 167.1L850.6 163.9Z" fill="#fff" stroke="#1c1c1c" stroke-width="1.45" stroke-linejoin="round" stroke-linecap="round" /><path d="M867.3 278L882.2 290.4L908.2 279.5L893.3 267.1Z" fill="#fff" stroke="#1c1c1c" stroke-width="1.45" stroke-linejoin="round" stroke-linecap="round" /><path d="M863.9 252.8L864.8 257L890.8 246.1L889.9 241.9Z" fill="#fff" stroke="#1c1c1c" stroke-width="1.45" stroke-linejoin="round" stroke-linecap="round" /><path d="M826.6 156.1L824.6 174.8L850.6 163.9L852.6 145.2Z" fill="#fff" stroke="#1c1c1c" stroke-width="1.45" stroke-linejoin="round" stroke-linecap="round" /><path d="M882.2 290.4L882.1 295.6L908.1 284.7L908.2 279.5Z" fill="#fff" stroke="#1c1c1c" stroke-width="1.45" stroke-linejoin="round" stroke-linecap="round" /><path d="M837.7 191.8L840.1 195.4L866.1 184.5L863.7 180.9Z" fill="#fff" stroke="#1c1c1c" stroke-width="1.45" stroke-linejoin="round" stroke-linecap="round" /><path d="M857.8 231.5L859.2 235.8L885.2 224.9L883.8 220.6Z" fill="#fff" stroke="#1c1c1c" stroke-width="1.45" stroke-linejoin="round" stroke-linecap="round" /><path d="M848.9 210.9L850.9 215L876.9 204.1L874.9 200Z" fill="#fff" stroke="#1c1c1c" stroke-width="1.45" stroke-linejoin="round" stroke-linecap="round" /><path d="M822.8 152.3L826.6 156.1L852.6 145.2L848.8 141.4Z" fill="#fff" stroke="#1c1c1c" stroke-width="1.45" stroke-linejoin="round" stroke-linecap="round" /><path d="M864.8 257L880.2 265.9L906.2 255L890.8 246.1Z" fill="#fff" stroke="#1c1c1c" stroke-width="1.45" stroke-linejoin="round" stroke-linecap="round" /><path d="M842.7 175.3L837.7 191.8L863.7 180.9L868.7 164.4Z" fill="#fff" stroke="#1c1c1c" stroke-width="1.45" stroke-linejoin="round" stroke-linecap="round" /><path d="M876.2 246.3L863.9 252.8L889.9 241.9L902.2 235.4Z" fill="#fff" stroke="#1c1c1c" stroke-width="1.45" stroke-linejoin="round" stroke-linecap="round" /><path d="M840.1 195.4L853.8 192.3L879.8 181.4L866.1 184.5Z" fill="#fff" stroke="#1c1c1c" stroke-width="1.45" stroke-linejoin="round" stroke-linecap="round" /><path d="M859.2 235.8L874.6 240.8L900.6 229.9L885.2 224.9Z" fill="#fff" stroke="#1c1c1c" stroke-width="1.45" stroke-linejoin="round" stroke-linecap="round" /><path d="M880.2 265.9L880.9 271.4L906.9 260.5L906.2 255Z" fill="#fff" stroke="#1c1c1c" stroke-width="1.45" stroke-linejoin="round" stroke-linecap="round" /><path d="M856.6 197.3L848.9 210.9L874.9 200L882.6 186.4Z" fill="#fff" stroke="#1c1c1c" stroke-width="1.45" stroke-linejoin="round" stroke-linecap="round" /><path d="M867.9 221.3L857.8 231.5L883.8 220.6L893.9 210.4Z" fill="#fff" stroke="#1c1c1c" stroke-width="1.45" stroke-linejoin="round" stroke-linecap="round" /><path d="M850.9 215L865.7 215.9L891.7 205L876.9 204.1Z" fill="#fff" stroke="#1c1c1c" stroke-width="1.45" stroke-linejoin="round" stroke-linecap="round" /><path d="M839.3 170.8L842.7 175.3L868.7 164.4L865.3 159.9Z" fill="#fff" stroke="#1c1c1c" stroke-width="1.45" stroke-linejoin="round" stroke-linecap="round" /><path d="M874.6 240.8L876.2 246.3L902.2 235.4L900.6 229.9Z" fill="#fff" stroke="#1c1c1c" stroke-width="1.45" stroke-linejoin="round" stroke-linecap="round" /><path d="M853.8 192.3L856.6 197.3L882.6 186.4L879.8 181.4Z" fill="#fff" stroke="#1c1c1c" stroke-width="1.45" stroke-linejoin="round" stroke-linecap="round" /><path d="M865.7 215.9L867.9 221.3L893.9 210.4L891.7 205Z" fill="#fff" stroke="#1c1c1c" stroke-width="1.45" stroke-linejoin="round" stroke-linecap="round" /><path d="M734 123.9L737.4 122.6L749.1 141L751.9 140.4L750.3 120L754.1 119.8L763.6 139.8L766.6 140L768 121L772 121.9L778.9 142.8L782.1 143.8L786.5 126.9L790.6 128.8L794.6 149.8L797.8 151.7L805 137.5L809 140.4L810.1 160.6L813.1 163.2L822.8 152.3L826.6 156.1L824.6 174.8L827.4 178L839.3 170.8L842.7 175.3L837.7 191.8L840.1 195.4L853.8 192.3L856.6 197.3L848.9 210.9L850.9 215L865.7 215.9L867.9 221.3L857.8 231.5L859.2 235.8L874.6 240.8L876.2 246.3L863.9 252.8L864.8 257L880.2 265.9L880.9 271.4L867.1 273.8L867.3 278L882.2 290.4L882.1 295.6L867.2 293.9L866.8 297.7L880.6 313.2L879.7 318L864.2 312.2L863.3 315.6L875.3 333.6L873.7 337.7L858.3 328.1L856.8 330.9L866.7 350.7L864.4 353.9L849.7 340.9L847.7 343L855.1 363.8L852.1 366.1L838.7 350.1L836.2 351.5L840.8 372.5L837.4 373.8L825.7 355.4L822.9 356L824.5 376.4L820.7 376.6L811.2 356.6L808.2 356.4L806.8 375.4L802.8 374.5L795.9 353.6L792.7 352.6L788.3 369.5L784.2 367.6L780.2 346.6L777 344.7L769.8 358.9L765.8 356L764.7 335.8L761.7 333.2L752 344.1L748.2 340.3L750.2 321.6L747.4 318.4L735.5 325.6L732.1 321.1L737.1 304.6L734.7 301L721 304.1L718.2 299.1L725.9 285.5L723.9 281.4L709.1 280.5L706.9 275.1L717 264.9L715.6 260.6L700.2 255.6L698.6 250.1L710.9 243.6L710 239.4L694.6 230.5L693.9 225L707.7 222.6L707.5 218.4L692.6 206L692.7 200.8L707.6 202.5L708 198.7L694.2 183.2L695.1 178.4L710.6 184.2L711.5 180.8L699.5 162.8L701.1 158.7L716.5 168.3L718 165.5L708.1 145.7L710.4 142.5L725.1 155.5L727.1 153.4L719.7 132.6L722.7 130.3L736.1 146.3L738.6 144.9Z" fill="#fff" stroke="#1c1c1c" stroke-width="1.5" stroke-linejoin="round" stroke-linecap="round" /><path d="M749.9 160L754.6 158.3L759.5 157.3L764.7 157L770 157.4L775.4 158.5L781 160.3L786.6 162.7L792.3 165.8L797.9 169.5L803.4 173.8L808.8 178.6L814.1 184L819.2 189.9L824 196.2L828.6 202.9L832.9 209.9L836.8 217.2L840.4 224.8L843.5 232.5L846.3 240.3L848.6 248.2L850.5 256.1L851.9 263.9L852.8 271.6L853.2 279.2L853.1 286.4L852.5 293.4L851.5 300.1L850 306.3L848 312.1L845.5 317.4L842.6 322.2L839.3 326.4L835.7 329.9L831.6 332.9L827.3 335.2L822.6 336.9L817.7 337.9L812.5 338.2L807.2 337.8L801.8 336.7L796.2 334.9L790.6 332.5L784.9 329.4L779.3 325.7L773.8 321.4L768.4 316.6L763.1 311.2L758 305.3L753.2 299L748.6 292.3L744.3 285.3L740.4 278L736.8 270.4L733.7 262.7L730.9 254.9L728.6 247L726.7 239.1L725.3 231.3L724.4 223.6L724 216L724.1 208.8L724.7 201.8L725.7 195.1L727.2 188.9L729.2 183.1L731.7 177.8L734.6 173L737.9 168.8L741.5 165.3L745.6 162.3L749.9 160Z" fill="none" stroke="#1c1c1c" stroke-width="1.5" stroke-linejoin="round" stroke-linecap="round" /><path d="M775 200.4C772.5 199.4 764.4 196.1 760 194.5C755.6 192.9 752.5 191.5 748.6 191.1C744.7 190.7 740 190.7 736.8 191.8C733.6 192.9 731.1 195.2 729.5 197.5C727.9 199.8 726.9 202.7 726.9 205.6C726.9 208.5 727.9 212.4 729.3 215C730.7 217.6 732.8 219.8 735.4 221C738 222.2 741 222.3 745 222.3C749 222.3 754.2 221.6 759.2 220.8C764.2 220 772.4 218.1 775 217.5L775 200.4" fill="none" stroke="#1c1c1c" stroke-width="1.5" stroke-linejoin="round" stroke-linecap="round" /><path d="M744.7 191.8C744 193.5 741.1 198.8 740.7 201.7C740.3 204.6 741.6 207 742.5 209C743.4 211 743.2 212.5 746 213.6C748.8 214.7 754.5 214.9 759.2 215.5C763.9 216.1 771.9 216.7 774.4 216.9" fill="none" stroke="#1c1c1c" stroke-width="1.5" stroke-linejoin="round" stroke-linecap="round" /><path d="M760 157C759.9 158.4 759 163.1 759.3 165.4C759.5 167.7 760.4 169.4 761.5 171C762.6 172.6 763.1 173.6 766.2 174.7C769.3 175.8 774.6 176.7 780 177.5C785.4 178.3 795.5 179 798.6 179.3L799.4 173.1" fill="none" stroke="#1c1c1c" stroke-width="1.5" stroke-linejoin="round" stroke-linecap="round" /><path d="M771.6 158.5C771.7 159.9 771.8 164.9 772.4 167C773 169.1 773.7 170 775 171C776.3 172 776 171.8 780 173C784 174.2 795.7 177.4 798.8 178.3" fill="none" stroke="#1c1c1c" stroke-width="1.5" stroke-linejoin="round" stroke-linecap="round" /><path d="M847.6 254.6C847.2 254.6 846.3 253.1 845.2 254.6C844.1 256.1 842.3 260.2 841.2 263.9C840.1 267.6 838.8 273.4 838.6 277C838.4 280.6 839.2 283.8 839.9 285.7C840.6 287.6 841.9 287.9 843 288.6C844.1 289.3 844.8 289.6 846.5 290C848.2 290.4 852.2 290.8 853.3 290.9" fill="none" stroke="#1c1c1c" stroke-width="1.5" stroke-linejoin="round" stroke-linecap="round" /><path d="M847.3 254.8C846.9 256.8 845.3 263.2 845.2 266.8C845.1 270.4 845.9 274.2 846.5 276.2C847.1 278.2 847.9 278.2 849 278.8C850.1 279.4 852.5 279.8 853.2 280" fill="none" stroke="#1c1c1c" stroke-width="1.5" stroke-linejoin="round" stroke-linecap="round" /><path d="M813.1 287.4L826.9 289.7C827.4 291.9 829.2 298.9 829.8 303.1C830.4 307.3 830.5 311.7 830.5 314.7C830.5 317.7 830.3 319.1 829.8 321C829.3 322.9 828.5 324.9 827.6 326.3C826.7 327.7 825.7 328.8 824.5 329.5C823.3 330.2 821.9 330.6 820.3 330.7C818.7 330.8 816.7 330.8 815 330.4C813.3 330 811.7 329.4 810.2 328.5C808.7 327.6 807.1 326.3 806 325C804.9 323.7 804.1 322.3 803.6 320.5C803.1 318.7 803.2 316.2 803.3 314C803.4 311.8 803.5 310.7 804.4 307.4C805.3 304.1 807.2 297.7 808.7 294.4C810.2 291.1 812.4 288.6 813.1 287.4" fill="none" stroke="#1c1c1c" stroke-width="1.5" stroke-linejoin="round" stroke-linecap="round" /><path d="M813.1 288.4C812.9 290.4 811.9 296.5 811.6 300.2C811.4 303.9 811.4 307.9 811.6 310.3C811.8 312.7 812.3 313.4 813 314.5C813.7 315.6 814.9 316.2 816 316.9C817.1 317.6 818.3 318.4 819.5 318.8C820.7 319.2 821.5 319.7 823.2 319.1C824.9 318.5 828.7 316 829.8 315.4" fill="none" stroke="#1c1c1c" stroke-width="1.5" stroke-linejoin="round" stroke-linecap="round" /><path d="M754.7 284C755.6 285 758.4 288.7 760 290C761.6 291.3 762.9 291.7 764.5 292C766.1 292.3 767.3 293 769.4 291.7C771.5 290.4 773.9 287.3 777 284C780.1 280.7 785.5 274.9 788 271.7C790.5 268.5 791.2 265.9 791.8 264.7" fill="none" stroke="#1c1c1c" stroke-width="1.5" stroke-linejoin="round" stroke-linecap="round" /><path d="M766.3 277C766.8 277.4 768.5 278.9 769.5 279.3C770.5 279.7 769.4 281.6 772.5 279.4C775.6 277.2 785.4 268.5 788 266.3" fill="none" stroke="#1c1c1c" stroke-width="1.5" stroke-linejoin="round" stroke-linecap="round" /><path d="M780.9 225.6C781 224.2 781.1 219.6 781.8 217C782.4 214.4 783.4 212.3 784.8 210.2C786.2 208.1 788 205.9 790 204.5C792 203.1 794.6 202 797.1 201.7C799.6 201.4 802.2 201.9 804.8 202.8C807.4 203.7 810 205.2 812.5 207.1C815 209 817.4 211.7 819.5 214.5C821.6 217.3 823.3 220.7 824.9 224.1C826.5 227.5 828 231.3 829 235C830 238.7 830.5 242.5 830.6 246C830.7 249.5 830.4 252.8 829.5 256C828.6 259.2 826.8 263.1 825 265.5C823.2 267.9 821.1 269.4 819 270.5C816.9 271.6 814.8 272.1 812.6 272.4C810.4 272.6 807.8 272.4 806 272C804.2 271.6 803.8 271.7 801.8 270.1C799.8 268.5 795.3 263.7 794 262.4" fill="none" stroke="#1c1c1c" stroke-width="1.5" stroke-linejoin="round" stroke-linecap="round" /><path d="M708.4 265.7L792.5 221.8C793.8 222.1 798 222.6 800 223.5C802 224.4 803.2 225.3 804.8 227.2C806.4 229 808.3 232.5 809.5 234.6C810.7 236.7 811.4 238.2 811.8 240C812.2 241.8 812.1 243.7 811.8 245.4C811.5 247.2 810.9 248.9 810 250.5C809.1 252.1 807 254 806.4 254.7L718.9 300Z" fill="#fff" stroke="#1c1c1c" stroke-width="1.5" stroke-linejoin="round" stroke-linecap="round" /><path d="M705.9 266.4L707.4 265.9L709.1 265.9L710.9 266.3L712.7 267.1L714.5 268.3L716.4 269.8L718.1 271.7L719.7 273.8L721.2 276.2L722.4 278.7L723.5 281.3L724.2 284L724.7 286.6L725 289.1L724.9 291.5L724.5 293.7L723.9 295.6L723 297.2L721.9 298.4L720.5 299.2L719 299.7L717.3 299.7L715.5 299.3L713.7 298.5L711.9 297.3L710 295.8L708.3 293.9L706.7 291.8L705.2 289.4L704 286.9L702.9 284.3L702.2 281.6L701.7 279L701.4 276.5L701.5 274.1L701.9 271.9L702.5 270L703.4 268.4L704.5 267.2L705.9 266.4Z" fill="#fff" stroke="#1c1c1c" stroke-width="1.5" stroke-linejoin="round" stroke-linecap="round" /></g>
<g><line x1="137.8" y1="564" x2="137.8" y2="635.7" stroke="#1c1c1c" stroke-width="1.55"/><line x1="314.4" y1="513" x2="314.4" y2="635.7" stroke="#1c1c1c" stroke-width="1.55"/><line x1="415.9" y1="515.5" x2="415.9" y2="635.7" stroke="#1c1c1c" stroke-width="1.55"/><line x1="548.3" y1="504.5" x2="548.3" y2="635.7" stroke="#1c1c1c" stroke-width="1.55"/><line x1="547.7" y1="102.4" x2="547.7" y2="154.5" stroke="#1c1c1c" stroke-width="1.55"/><line x1="768.6" y1="60.8" x2="768.6" y2="111" stroke="#1c1c1c" stroke-width="1.55"/><line x1="727.5" y1="423.6" x2="824.5" y2="423.6" stroke="#1c1c1c" stroke-width="1.55"/><path d="M180 493L715 281.6" fill="none" stroke="#1c1c1c" stroke-width="1.8" stroke-linecap="round" stroke-dasharray="0.01 3.15"/><path d="M362.8 308.8L431.4 283" fill="none" stroke="#1c1c1c" stroke-width="1.8" stroke-linecap="round" stroke-dasharray="0.01 3.15"/><path d="M492 207.6L450.6 221.7L488.5 293L415.7 323.3" fill="none" stroke="#1c1c1c" stroke-width="1.8" stroke-linecap="round" stroke-dasharray="0.01 3.15"/><path d="M438 497.6L548 456.4" fill="none" stroke="#1c1c1c" stroke-width="1.8" stroke-linecap="round" stroke-dasharray="0.01 3.15"/><path d="M521.3 483.3L639.5 437.3" fill="none" stroke="#1c1c1c" stroke-width="1.8" stroke-linecap="round" stroke-dasharray="0.01 3.15"/><text x="547.7" y="91" font-size="17.8" text-anchor="middle" filter="url(#gs)" stroke="#1a1a1a" stroke-width="0.55">4</text><text x="766.2" y="57.1" font-size="17.8" text-anchor="middle" filter="url(#gs)" stroke="#1a1a1a" stroke-width="0.55">5</text><text x="839" y="429.2" font-size="17.8" text-anchor="middle" filter="url(#gs)" stroke="#1a1a1a" stroke-width="0.55">4</text><text x="138" y="653.3" font-size="17.8" text-anchor="middle" filter="url(#gs)" stroke="#1a1a1a" stroke-width="0.55">2</text><text x="313.8" y="653.3" font-size="17.8" text-anchor="middle" filter="url(#gs)" stroke="#1a1a1a" stroke-width="0.55">3</text><text x="415.2" y="653.3" font-size="17.8" text-anchor="middle" filter="url(#gs)" stroke="#1a1a1a" stroke-width="0.55">6</text><text x="547.7" y="653.3" font-size="17.8" text-anchor="middle" filter="url(#gs)" stroke="#1a1a1a" stroke-width="0.55">1</text></g>
</svg>
</body></html>
